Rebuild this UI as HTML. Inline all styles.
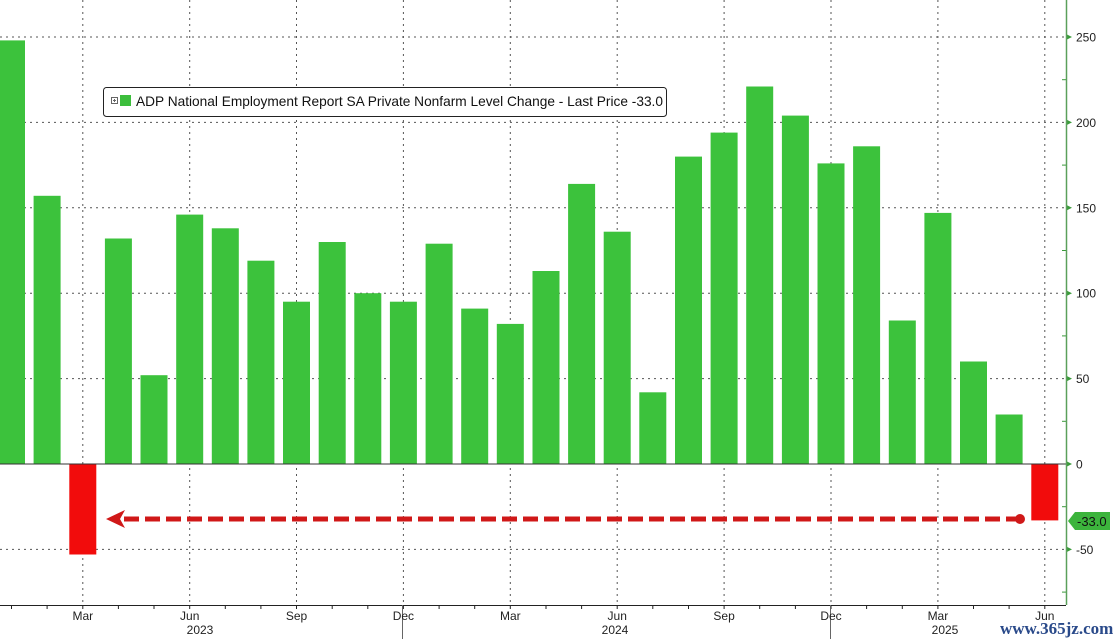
<!DOCTYPE html>
<html><head><meta charset="utf-8"><style>
body{margin:0;background:#fff;}
svg{display:block;font-family:"Liberation Sans","DejaVu Sans",sans-serif;}
</style></head><body>
<svg id="s" width="1114" height="639" xmlns="http://www.w3.org/2000/svg">
<rect width="1114" height="639" fill="#fff"/>
<g id="grid"></g>
<g id="bars"></g>
<g id="axis"></g>
<g id="txt" font-size="12" fill="#222"></g>
<line x1="124" y1="519" x2="1020" y2="519" stroke="#d01818" stroke-width="5" stroke-dasharray="15,6"/>
<polygon points="106,519 125,510 120,519 125,528" fill="#d01818"/>
<circle cx="1020" cy="519" r="5" fill="#d01818"/>
<rect x="103.5" y="87.5" width="563" height="29" rx="3" fill="#fff" stroke="#222"/>
<rect x="111.5" y="97.5" width="6" height="6" fill="none" stroke="#666"/>
<line x1="113" y1="100.5" x2="116" y2="100.5" stroke="#666"/><line x1="114.5" y1="99" x2="114.5" y2="102" stroke="#666"/>
<rect x="120" y="95" width="11" height="11" fill="#3cbe3c"/>
<text x="136" y="106" font-size="13.7" fill="#111">ADP National Employment Report SA Private Nonfarm Level Change - Last Price -33.0</text>
<polygon points="1068,521 1075,512 1110,512 1110,530 1075,530" fill="#3cb43c"/>
<text x="1077" y="526" font-size="13" fill="#111">-33.0</text>
<text x="1000" y="634" font-size="17" font-weight="bold" fill="#2a4a8a" font-family="Liberation Serif,serif">www.365jz.com</text>
</svg>
<script>
const vals=[248,157,-53,132,52,146,138,119,95,130,100,95,129,91,82,113,164,136,42,180,194,221,204,176,186,84,147,60,29,-33];
const Z=464,K=1.708,sp=35.63,x0=11.5;
let b='',g='',a='',t='';
vals.forEach((v,i)=>{const cx=x0+i*sp;const h=Math.abs(v)*K;const y=v>=0?Z-h:Z;
b+=`<rect x="${(cx-13.5).toFixed(1)}" y="${y.toFixed(1)}" width="27" height="${h.toFixed(1)}" fill="${v>=0?'#3cc23c':'#f20c0c'}"/>`;
a+=`<line x1="${cx.toFixed(1)}" y1="605" x2="${cx.toFixed(1)}" y2="609" stroke="#222"/>`;});
for(let i=2;i<30;i+=3){const cx=x0+i*sp;g+=`<line x1="${cx.toFixed(1)}" y1="0" x2="${cx.toFixed(1)}" y2="605" stroke="#555" stroke-dasharray="2,4"/>`;
const m=['Mar','Jun','Sep','Dec'][((i-2)/3)%4];t+=`<text x="${cx.toFixed(1)}" y="620" text-anchor="middle">${m}</text>`;}
for(let v=-50;v<=250;v+=50){const y=Z-v*K;if(v!==0)g+=`<line x1="0" y1="${y.toFixed(1)}" x2="1066" y2="${y.toFixed(1)}" stroke="#555" stroke-dasharray="2,4"/>`;
a+=`<polygon points="1066,${(y-3).toFixed(1)} 1072,${y.toFixed(1)} 1066,${(y+3).toFixed(1)}" fill="#3a9a3a"/>`;
t+=`<text x="1076" y="${(y+4.5).toFixed(1)}">${v}</text>`;}
for(let v=-75;v<=275;v+=50){const y=Z-v*K;a+=`<line x1="1062" y1="${y.toFixed(1)}" x2="1066" y2="${y.toFixed(1)}" stroke="#3a9a3a"/>`;}
a+=`<line x1="0" y1="${Z}" x2="1066" y2="${Z}" stroke="#333"/>`;
a+=`<line x1="0" y1="605.5" x2="1066" y2="605.5" stroke="#222"/>`;
a+=`<line x1="1066.5" y1="0" x2="1066.5" y2="605" stroke="#5aa05a" stroke-width="1.5"/>`;
a+=`<line x1="402.5" y1="605" x2="402.5" y2="639" stroke="#666"/><line x1="830.5" y1="605" x2="830.5" y2="639" stroke="#666"/>`;
t+=`<text x="200" y="634" text-anchor="middle">2023</text><text x="615" y="634" text-anchor="middle">2024</text><text x="945" y="634" text-anchor="middle">2025</text>`;
document.getElementById('grid').innerHTML=g;document.getElementById('bars').innerHTML=b;
document.getElementById('axis').innerHTML=a;document.getElementById('txt').innerHTML=t;
</script>
</body></html>
